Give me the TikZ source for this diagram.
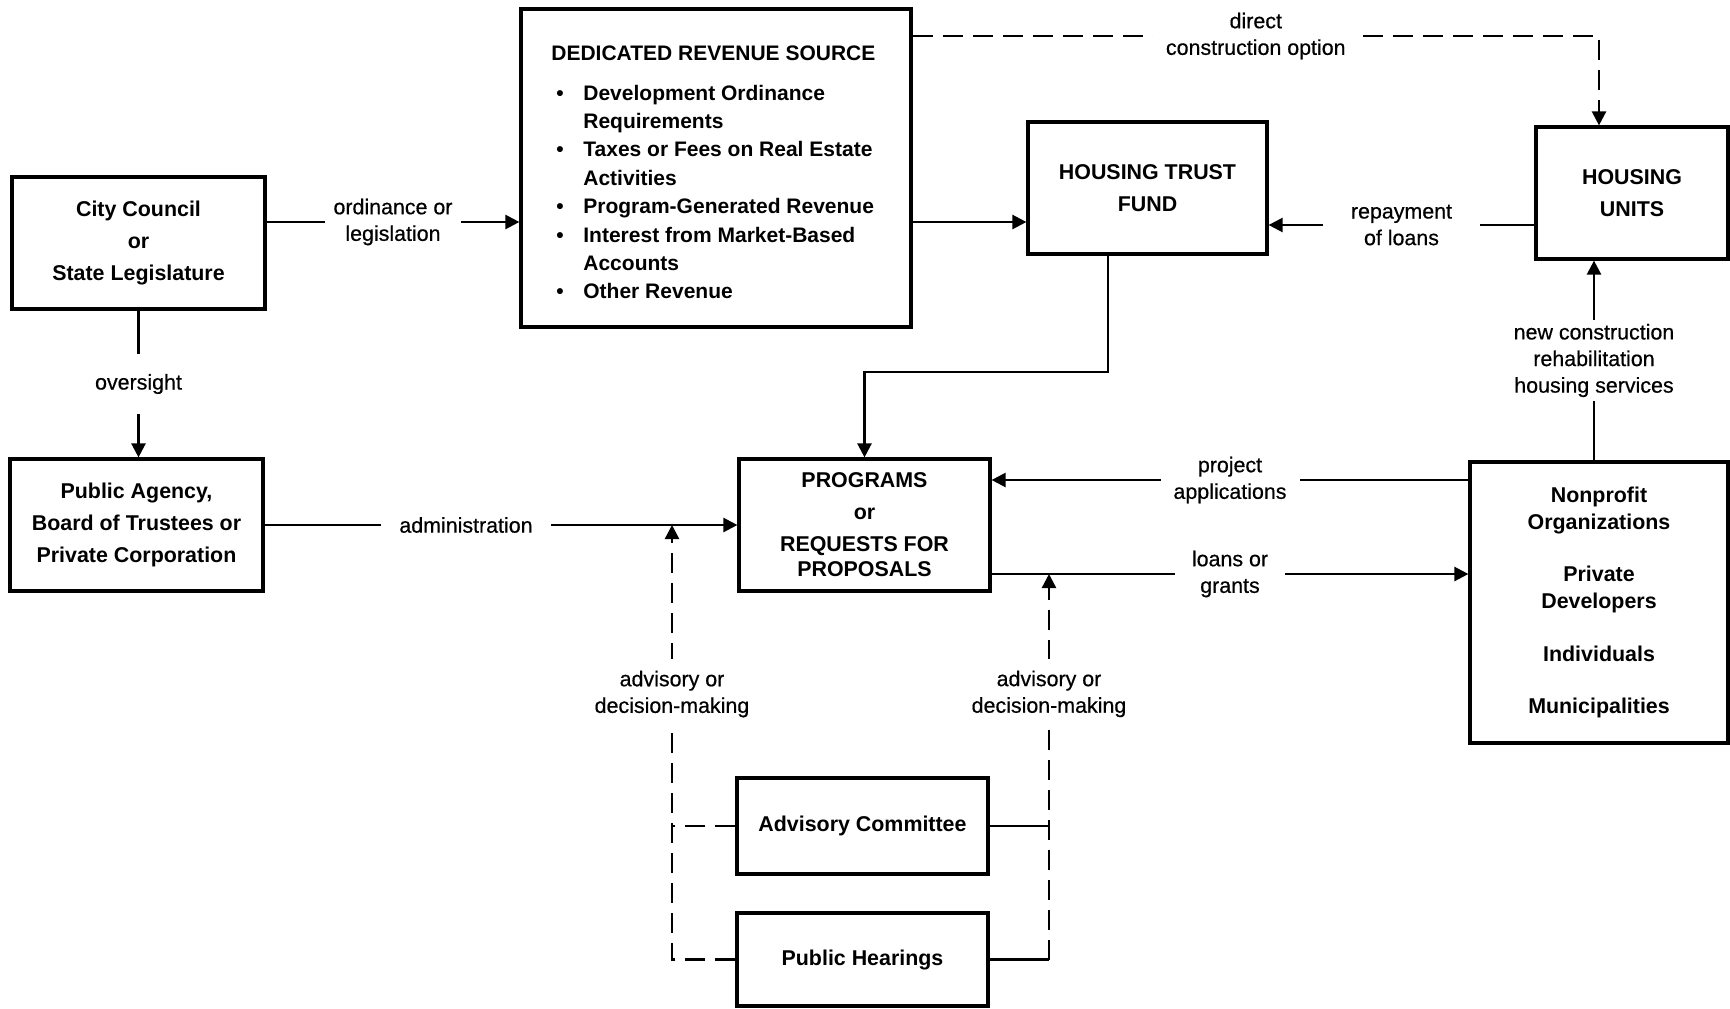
\documentclass[tikz,border=0pt]{standalone}
\usepackage{fontspec}
\setmainfont{Liberation Sans}
\newfontfamily\labfont[FakeBold=0.5]{Liberation Sans}
\usetikzlibrary{arrows.meta}
\begin{document}
\begin{tikzpicture}[x=0.5pt,y=-0.5pt,
  box/.style={draw,line width=1.6pt,align=center,inner sep=0pt,
    font=\fontsize{10.7pt}{16pt}\selectfont\bfseries},
  lab/.style={fill=white,align=center,inner xsep=5pt,inner ysep=2pt,
    font=\labfont\fontsize{10.7pt}{13.3pt}\selectfont},
  conn/.style={line width=1.2pt},
  arr/.style={-{Triangle[length=7pt,width=7pt]}},
  dsh/.style={dash pattern=on 10pt off 5pt}]
\useasboundingbox (0,0) rectangle (1730,1008);

% boxes
\node[box,minimum width=126.5pt,minimum height=66pt] (cc) at (138.5,243) {City Council\\or\\State Legislature};
\node[box,minimum width=126.5pt,minimum height=66pt] (pa) at (136.5,525) {Public Agency,\\Board of Trustees or\\Private Corporation};
\node[box,minimum width=195pt,minimum height=159pt] (drs) at (716,168) {};
\node[anchor=north west,inner sep=0pt,align=left,
  font=\fontsize{10.5pt}{14.2pt}\selectfont\bfseries] (drstext) at (551,45)
  {DEDICATED REVENUE SOURCE\\[5.8pt]
   \hspace*{2.5pt}\makebox[13.5pt][l]{\textbullet}Development Ordinance\\
   \hspace*{16pt}Requirements\\
   \hspace*{2.5pt}\makebox[13.5pt][l]{\textbullet}Taxes or Fees on Real Estate\\
   \hspace*{16pt}Activities\\
   \hspace*{2.5pt}\makebox[13.5pt][l]{\textbullet}Program-Generated Revenue\\
   \hspace*{2.5pt}\makebox[13.5pt][l]{\textbullet}Interest from Market-Based\\
   \hspace*{16pt}Accounts\\
   \hspace*{2.5pt}\makebox[13.5pt][l]{\textbullet}Other Revenue};
\node[box,minimum width=119.5pt,minimum height=66pt] (htf) at (1147.5,188) {HOUSING TRUST\\FUND};
\node[box,minimum width=96pt,minimum height=66pt] (hu) at (1632,193) {HOUSING\\UNITS};
\node[box,minimum width=125.5pt,minimum height=66pt] (prog) at (864.5,525) {PROGRAMS\\or\\REQUESTS FOR\\[-3.5pt]PROPOSALS};
\node[box,minimum width=129pt,minimum height=140.5pt,
  font=\fontsize{10.7pt}{13.5pt}\selectfont\bfseries] (np) at (1599,602.5)
  {Nonprofit\\Organizations\\[12.7pt]Private\\Developers\\[12.7pt]Individuals\\[12.7pt]Municipalities};
\node[box,minimum width=125.5pt,minimum height=48pt] (ac) at (862.5,826) {Advisory Committee};
\node[box,minimum width=125.5pt,minimum height=46.5pt] (ph) at (862.5,959.5) {Public Hearings};

% helper coordinates
\coordinate (yA) at (0,222);
\coordinate (xD) at (1599,0);
\coordinate (yD) at (0,36);
\coordinate (yR) at (0,225);
\coordinate (xH) at (1108,0);
\coordinate (yH) at (0,372);
\coordinate (yP) at (0,480);
\coordinate (yL) at (0,574);
\coordinate (xN) at (1594,0);
\coordinate (jL) at (672,525);
\coordinate (jR) at (1049,574);

% connectors
\draw[conn,arr] (cc.east |- yA) -- node[lab,inner xsep=4.5pt]{ordinance or\\legislation} (drs.west |- yA);
\draw[conn,arr] (drs.east |- yA) -- (htf.west |- yA);
\draw[conn,arr] (cc.south) -- node[lab,inner ysep=10pt]{oversight} (cc.south |- pa.north);
\draw[conn,arr] (pa.east) -- node[lab,pos=0.426,inner xsep=9pt]{administration} (prog.west);
\draw[conn,dsh,arr] (drs.east |- yD) -- node[lab,inner xsep=6.5pt]{direct\\construction option} (xD |- yD) -- (xD |- hu.north);
\draw[conn,arr] (hu.west |- yR) -- node[lab,inner xsep=14pt]{repayment\\of loans} (htf.east |- yR);
\draw[conn,arr] (xH |- htf.south) -- (xH |- yH) -- (prog.north |- yH) -- (prog.north);
\draw[conn,arr] (np.west |- yP) -- node[lab,inner xsep=6.5pt]{project\\applications} (prog.east |- yP);
\draw[conn,arr] (prog.east |- yL) -- node[lab,inner xsep=8.5pt]{loans or\\grants} (np.west |- yL);
\draw[conn,arr] (xN |- np.north) -- node[lab]{new construction\\rehabilitation\\housing services} (xN |- hu.south);

\draw[conn,dsh] (ac.west) -- (ac.west -| jL);
\draw[conn,dsh,arr] (ph.west) -- (ph.west -| jL) -- node[lab,pos=0.611,inner ysep=6pt]{advisory or\\decision-making} (jL);
\draw[conn] (ac.east) -- (ac.east -| jR);
\draw[conn] (ph.east) -- (ph.east -| jR);
\draw[conn,dsh,arr] (ph.east -| jR) -- node[lab,pos=0.689,inner ysep=6pt]{advisory or\\decision-making} (jR);
\end{tikzpicture}
\end{document}
